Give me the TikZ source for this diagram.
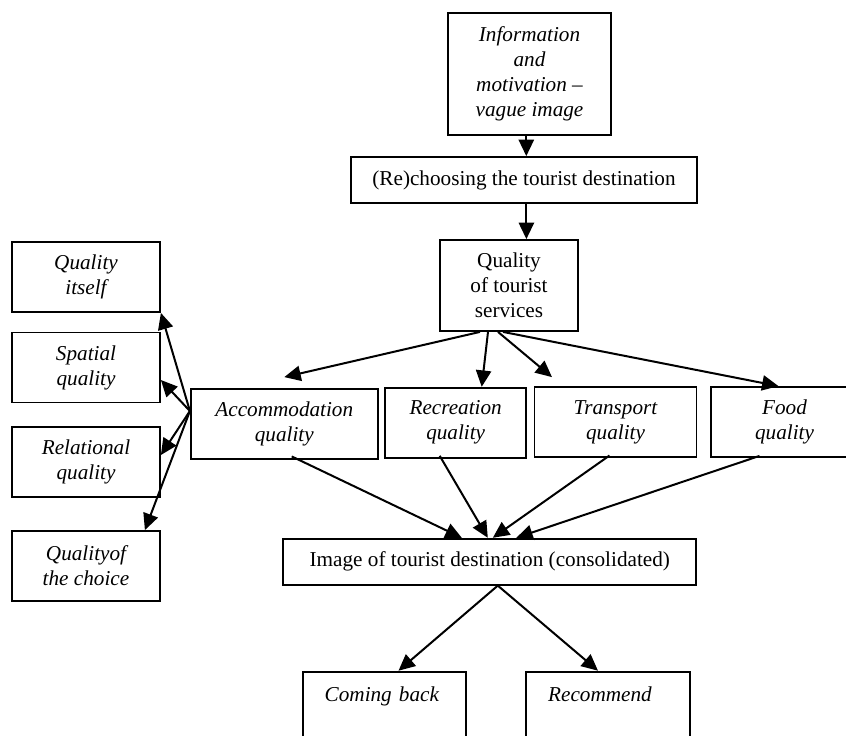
\documentclass[tikz,border=0pt]{standalone}
\usepackage{fontspec}
\setmainfont{Liberation Serif}
\usetikzlibrary{arrows.meta}
\tikzset{>={Triangle[length=8.2pt,width=7.6pt]}}
\tikzset{
  box/.style={draw, line width=.9pt, align=center, inner sep=0pt,
    font=\fontsize{10.6}{12.5}\selectfont},
  ibox/.style={box, font=\fontsize{10.6}{12.5}\selectfont\itshape},
  sidebox/.style={ibox, minimum width=74pt, minimum height=35pt},
  midbox/.style={ibox, minimum height=35pt},
  endbox/.style={ibox, anchor=north, align=left, text width=59.8pt,
    inner xsep=11pt, text height=8pt, text depth=60pt, inner ysep=7pt},
  link/.style={->, line width=1pt},
}

\begin{document}
\begin{tikzpicture}[x=.5pt,y=-.5pt]
  \useasboundingbox (0,0) rectangle (846,735);
  % Draw the main column
  \node[ibox, minimum width=81.5pt, minimum height=61pt] (info) at (529.5,74)
    {Information\\and\\motivation --\\vague image};
  \node[box, minimum width=173pt, minimum height=23pt] (rechoose) at (524,180)
    {(Re)choosing the tourist destination};
  \node[box, minimum width=69pt, minimum height=45.5pt] (services) at (509,285.5)
    {Quality\\of tourist\\services};
  % Draw the kinds of services
  \node[midbox, minimum width=93.5pt] (accom) at (284.3,424) {Accommodation\\quality};
  \node[midbox, minimum width=70.5pt] (recre) at (455.7,422.7) {Recreation\\quality};
  \node[midbox, minimum width=81pt] (transp) at (615.5,422) {Transport\\quality};
  \node[midbox, minimum width=73.5pt] (food) at (784.5,422) {Food\\quality};
  % Draw the sides of quality on the left
  \foreach \name/\ypos/\txt in {qitself/277/{Quality\\itself},
      spatial/367.5/{Spatial\\quality}, relational/462/{Relational\\quality},
      choice/566/{Qualityof\\the choice}}
    \node[sidebox] (\name) at (86,\ypos) {\txt};
  % Draw the image and what follows
  \node[box, minimum width=206.5pt, minimum height=23pt] (image) at (489.8,561.7)
    {Image of tourist destination (consolidated)};
  \node[endbox] (comeback) at (384.5,670.7) {Coming back};
  \node[endbox] (recommend) at (608,670.7) {Recommend};
  % Draw the arrows
  \draw[link] ([xshift=-1.6pt]info.south) -- ([xshift=-1.6pt]info.south |- rechoose.north);
  \draw[link] ([xshift=1.2pt]rechoose.south) -- ([xshift=1.2pt]rechoose.south |- services.north);
  \draw[link] ([xshift=-14.5pt]services.south) -- ([yshift=5.5pt]accom.north);
  \draw[link] ([xshift=-10.5pt]services.south) -- ([xshift=13pt]recre.north);
  \draw[link] ([xshift=-5.5pt]services.south) -- ([xshift=-31.75pt,yshift=4.5pt]transp.north);
  \draw[link] ([xshift=-3pt]services.south) -- ([xshift=-3pt]food.north);
  \draw[link] ([yshift=6.5pt]accom.west) -- (qitself.south east);
  \draw[link] ([yshift=6.5pt]accom.west) -- ([yshift=-6.25pt]spatial.east);
  \draw[link] ([yshift=6.5pt]accom.west) -- ([yshift=3.5pt]relational.east);
  \draw[link] ([yshift=6.5pt]accom.west) -- ([xshift=-8pt]choice.north east);
  \draw[link] ([xshift=3.7pt,yshift=1.75pt]accom.south) -- ([xshift=-14pt]image.north);
  \draw[link] ([xshift=-8pt,yshift=1.4pt]recre.south) -- ([xshift=-1pt]image.north);
  \draw[link] ([xshift=-3pt,yshift=1.2pt]transp.south) -- ([xshift=1.5pt]image.north);
  \draw[link] ([xshift=-12.5pt,yshift=1pt]food.south) -- ([xshift=13.25pt]image.north);
  \draw[link] ([xshift=4pt]image.south) -- ([xshift=7pt]comeback.north);
  \draw[link] ([xshift=4pt]image.south) -- ([xshift=-5pt]recommend.north);
\end{tikzpicture}
\end{document}
